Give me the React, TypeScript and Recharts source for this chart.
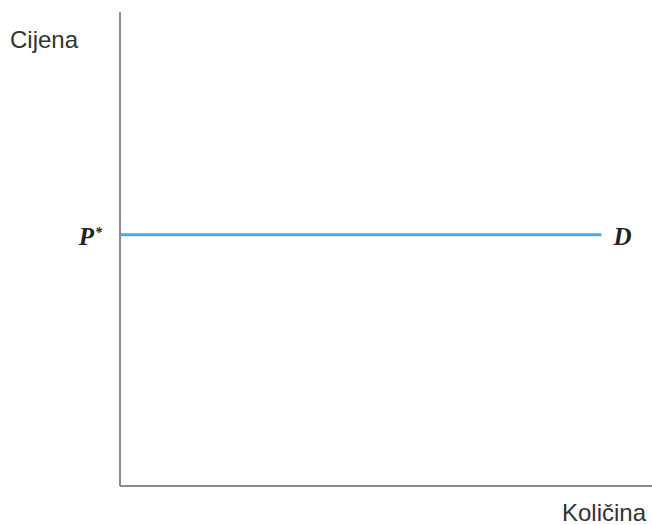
import React from 'react';
import { LineChart, Line, XAxis, YAxis, Label } from 'recharts';

// horizontal demand curve: perfectly elastic at price P*
const quantities = [0, 9.05];
const prices = [5.3, 5.3];
const priceTick = 5.3;
const curveName = 'D';
const yTitle = 'Cijena';
const xTitle = 'Količina';

const data = quantities.map((q, i) => ({ q, p: prices[i] }));

const axisColor = '#8a8a8a';
const lineColor = '#46aee2';
const sans = '"Liberation Sans", Arial, sans-serif';
const serif = '"Liberation Serif", "Times New Roman", serif';

const PriceTick = (props: any) => {
    const { x, y } = props;
    return (
        <text x={x - 10} y={y + 10} textAnchor="end" fontFamily={serif} fontStyle="italic" fontWeight="bold" fontSize={25} fill="#222">
            P
            <tspan fontSize={14} dy={-8} dx={1}>*</tspan>
        </text>
    );
};

const renderEndLabel = (props: any) => {
    const { x, y, index } = props;
    if (index !== data.length - 1) return null;
    return (
        <text x={x + 12} y={y + 10} fontFamily={serif} fontStyle="italic" fontWeight="bold" fontSize={25} fill="#222">
            {curveName}
        </text>
    );
};

const App: React.FC = () => {
    return (
        <div style={{ position: 'absolute', left: 0, top: 0, width: 652, height: 525, background: '#fff' }}>
            <LineChart width={652} height={525} data={data} margin={{ top: 12, right: 0, bottom: 38, left: 119 }}>
                <XAxis
                    dataKey="q"
                    type="number"
                    domain={[0, 10]}
                    tick={false}
                    tickLine={false}
                    height={1}
                    axisLine={{ stroke: axisColor, strokeWidth: 2 }}
                >
                    <Label
                        content={({ viewBox }: any) => (
                            <text x={viewBox.x + viewBox.width - 6} y={viewBox.y + 35} textAnchor="end" fontFamily={sans} fontSize={24} fill="#333">
                                {xTitle}
                            </text>
                        )}
                    />
                </XAxis>
                <YAxis
                    type="number"
                    domain={[0, 10]}
                    ticks={[priceTick]}
                    tick={<PriceTick />}
                    tickLine={false}
                    width={1}
                    axisLine={{ stroke: axisColor, strokeWidth: 2 }}
                >
                    <Label
                        content={({ viewBox }: any) => (
                            <text x={viewBox.x - 109} y={viewBox.y + 36} fontFamily={sans} fontSize={24} fill="#333">
                                {yTitle}
                            </text>
                        )}
                    />
                </YAxis>
                <Line
                    dataKey="p"
                    type="linear"
                    stroke={lineColor}
                    strokeWidth={3}
                    dot={false}
                    activeDot={false}
                    label={renderEndLabel}
                    isAnimationActive={false}
                />
            </LineChart>
        </div>
    );
};

export default App;
